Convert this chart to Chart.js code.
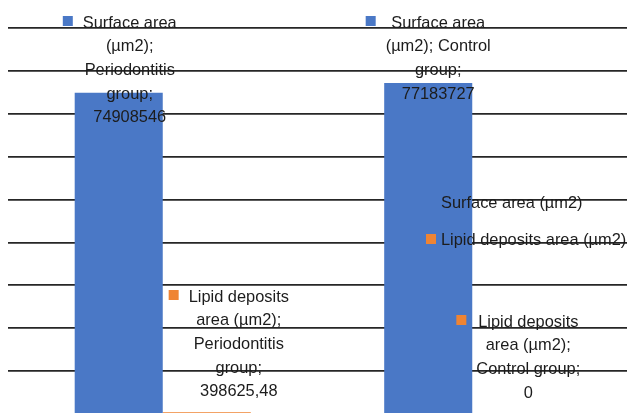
<!DOCTYPE html>
<html>
<head>
<meta charset="utf-8">
<script src="https://cdn.jsdelivr.net/npm/chart.js@4"></script>
<style>
  html, body { margin: 0; padding: 0; background: #fff; overflow: hidden; }
  #wrap { width: 630px; height: 414px; }
</style>
</head>
<body>
<div id="wrap"><canvas id="c"></canvas></div>
<script>
// 資料
const categories = ['Periodontitis group', 'Control group'];
const seriesNames = ['Surface area (µm2)', 'Lipid deposits area (µm2)'];
const surfaceArea = [74908546, 77183727];
const lipidArea = [398625.48, 0];
const yMax = 90000000;
const yStep = 10000000;

const colors = ['#4a78c6', '#ef8433'];
const font = '16.4px "Liberation Sans", Arial, sans-serif';

// 資料標籤位置 (相對於長條中心)
const labelLayout = [
  { ds: 0, i: 0, dx: 11, y: 23 },
  { ds: 0, i: 1, dx: 10, y: 23 },
  { ds: 1, i: 0, dx: 32, y: 297 },
  { ds: 1, i: 1, dx: 12, y: 322 },
];
const legendPos = { x: 426, y: [203, 240] };

function fmt(v) {
  return String(v).replace('.', ',');
}

function wrap(ctx, text, maxW) {
  let words = text.split(' ');
  let lines = [];
  let cur = '';
  words.forEach(w => {
    let t = cur ? cur + ' ' + w : w;
    if (cur && ctx.measureText(t).width > maxW) {
      lines.push(cur);
      cur = w;
    } else {
      cur = t;
    }
  });
  if (cur) lines.push(cur);
  return lines;
}

// 自訂標籤與圖例
const labelPlugin = {
  id: 'labels',
  afterDatasetsDraw(chart) {
    const ctx = chart.ctx;
    ctx.save();
    ctx.font = font;
    ctx.textBaseline = 'middle';
    labelLayout.forEach(l => {
      const bar = chart.getDatasetMeta(l.ds).data[l.i];
      const ds = chart.data.datasets[l.ds];
      const text = ds.label + '; ' + chart.data.labels[l.i] + '; ' + fmt(ds.data[l.i]);
      const lines = wrap(ctx, text, 114);
      const cx = bar.x + l.dx;
      const maxW = Math.max(...lines.map(s => ctx.measureText(s).width));
      ctx.fillStyle = colors[l.ds];
      ctx.fillRect(cx - maxW / 2 - 20, l.y - 7, 10, 10);
      ctx.fillStyle = '#1c1c1c';
      ctx.textAlign = 'center';
      lines.forEach((s, k) => ctx.fillText(s, cx, l.y + k * 23.7));
    });
    // 圖例
    chart.data.datasets.forEach((ds, k) => {
      const y = legendPos.y[k];
      ctx.fillStyle = colors[k];
      ctx.fillRect(legendPos.x, y - 6, 10, 10);
      ctx.fillStyle = '#1c1c1c';
      ctx.textAlign = 'left';
      ctx.fillText(ds.label, legendPos.x + 15, y);
    });
    ctx.restore();
  }
};

let config = {
  type: 'bar',
  data: {
    labels: categories,
    datasets: [
      { label: seriesNames[0], data: surfaceArea, backgroundColor: colors[0] },
      { label: seriesNames[1], data: lipidArea, backgroundColor: colors[1] },
    ]
  },
  options: {
    responsive: true,
    maintainAspectRatio: false,
    animation: false,
    layout: { padding: { left: 8, right: 3, top: 28, bottom: 0 } },
    datasets: { bar: { barPercentage: 1, categoryPercentage: 0.569 } },
    plugins: {
      legend: { display: false },
      tooltip: { enabled: false },
    },
    scales: {
      x: { display: false },
      y: {
        min: 0,
        max: yMax,
        border: { display: false },
        grid: { color: '#262626', lineWidth: 1.7, drawTicks: false },
        ticks: { display: false, stepSize: yStep },
      }
    }
  },
  plugins: [labelPlugin]
};

let myCh = new Chart(document.getElementById('c'), config);
</script>
</body>
</html>
